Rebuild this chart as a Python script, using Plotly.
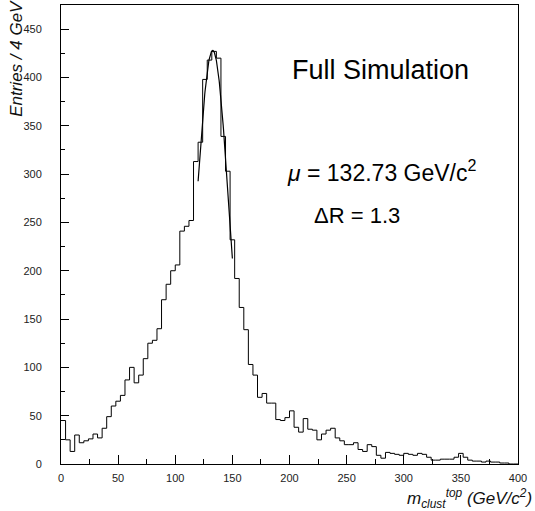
import numpy as np
import plotly.graph_objects as go

# Histogram: 100 bins of 4 GeV from 0 to 400
bin_width = 4
x_min = 0
counts = [45, 25, 13, 30, 22, 24, 26, 31, 27, 37,
          49, 60, 65, 71, 87, 100, 84, 92, 109, 125,
          128, 140, 170, 186, 200, 206, 241, 246, 252, 313,
          333, 398, 418, 427, 420, 339, 303, 232, 192, 162,
          139, 103, 92, 69, 73, 63, 63, 46, 45, 48,
          55, 38, 33, 47, 36, 35, 25, 31, 35, 37,
          27, 24, 20, 20, 22, 15, 13, 20, 18, 9,
          6, 12, 11, 10, 9, 11, 10, 9, 11, 10,
          7, 4, 4, 5, 5, 5, 7, 11, 7, 4,
          3, 3, 2, 3, 2, 2, 1, 1, 0, 0]

# Gaussian fit parameters
fit_mu = 132.73
fit_amp = 428
fit_sigma = 14.6
fit_range = [120, 150]

x_ticks = [0, 50, 100, 150, 200, 250, 300, 350, 400]
y_ticks = [0, 50, 100, 150, 200, 250, 300, 350, 400, 450]

edges = x_min + bin_width * np.arange(len(counts) + 1)
hist_x = edges
hist_y = list(counts) + [counts[-1]]

fx = np.linspace(fit_range[0], fit_range[1], 120)
fy = fit_amp * np.exp(-0.5 * ((fx - fit_mu) / fit_sigma) ** 2)

font_family = "Liberation Sans, Arial, Helvetica, sans-serif"

fig = go.Figure()
fig.add_trace(go.Scatter(x=hist_x, y=hist_y, mode="lines",
                         line=dict(shape="hv", color="black", width=1),
                         hoverinfo="skip", showlegend=False))
fig.add_trace(go.Scatter(x=fx, y=fy, mode="lines",
                         line=dict(color="black", width=1.2),
                         hoverinfo="skip", showlegend=False))

fig.update_layout(
    width=535, height=511,
    margin=dict(l=61, r=17, t=5, b=47),
    paper_bgcolor="white", plot_bgcolor="white",
    font=dict(family=font_family, color="#222", size=11),
    xaxis=dict(range=[0, 400], tickvals=x_ticks, ticktext=[str(v) for v in x_ticks],
               ticks="inside", ticklen=9, tickcolor="black", tickwidth=1,
               showline=True, linecolor="black", linewidth=1, mirror=True,
               showgrid=False, zeroline=False,
               minor=dict(ticks="inside", ticklen=5, dtick=25, tick0=0, tickcolor="black", showgrid=False),
               ticklabelstandoff=4, tickfont=dict(size=11, color="#222")),
    yaxis=dict(range=[0, 475], tickvals=y_ticks, ticktext=[str(v) for v in y_ticks],
               ticks="inside", ticklen=8, tickcolor="black", tickwidth=1,
               showline=True, linecolor="black", linewidth=1, mirror=True,
               showgrid=False, zeroline=False,
               minor=dict(ticks="inside", ticklen=4, dtick=25, tick0=0, tickcolor="black", showgrid=False),
               ticklabelstandoff=16, tickfont=dict(size=11, color="#222")),
)

annotations = [
    dict(text="<i>Entries / 4 GeV</i>", xref="paper", yref="paper",
         x=-0.098, y=1.015, xanchor="center", yanchor="top", textangle=-90,
         showarrow=False, font=dict(size=17, color="#111")),
    dict(text="<i>m<sub>clust</sub><sup>top</sup> (GeV/c<sup>2</sup>)</i>", xref="paper", yref="paper",
         x=1.036, y=-0.043, xanchor="right", yanchor="top",
         showarrow=False, font=dict(size=17, color="#111")),
    dict(text="Full Simulation", xref="x", yref="y", x=200, y=408,
         xanchor="left", yanchor="middle", showarrow=False,
         font=dict(size=27, color="black")),
    dict(text="<i>μ</i> = 132.73 GeV/c<sup>2</sup>", xref="x", yref="y", x=196, y=303,
         xanchor="left", yanchor="middle", showarrow=False,
         font=dict(size=23, color="black")),
    dict(text="ΔR = 1.3", xref="x", yref="y", x=220, y=257,
         xanchor="left", yanchor="middle", showarrow=False,
         font=dict(size=22, color="black")),
]
fig.update_layout(annotations=annotations)

fig.write_html("out.html")
